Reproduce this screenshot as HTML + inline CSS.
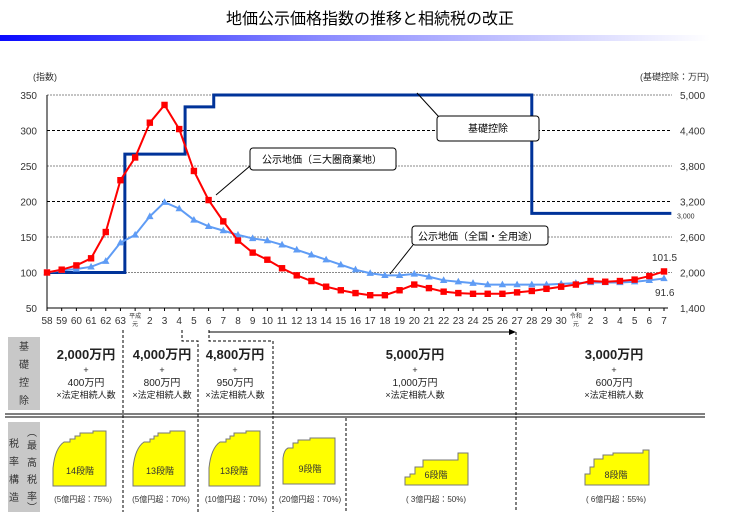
<!DOCTYPE html>
<html><head><meta charset="utf-8">
<style>
body{margin:0;background:#fff;width:740px;height:512px;overflow:hidden;font-family:"Liberation Sans","Noto Sans CJK JP",sans-serif;}
svg{display:block}
text{font-family:"Liberation Sans","Noto Sans CJK JP",sans-serif;}
</style></head>
<body>
<svg id="c" width="740" height="512" xmlns="http://www.w3.org/2000/svg">
<defs>
<linearGradient id="g" x1="0" x2="1" y1="0" y2="0">
<stop offset="0" stop-color="#0a0aff"/><stop offset="0.45" stop-color="#8a8aff"/><stop offset="1" stop-color="#ffffff"/>
</linearGradient>
</defs>
<text x="370" y="24" text-anchor="middle" font-size="16" fill="#000">地価公示価格指数の推移と相続税の改正</text>
<rect x="0" y="35" width="710" height="6" fill="url(#g)"/>
<text x="33" y="80" font-size="9" fill="#333">(指数)</text>
<text x="640" y="80" font-size="9" fill="#333">(基礎控除：万円)</text>
<g id="grid"></g>
<g id="axes"></g>
<g id="series"></g>
<g id="callouts">
<line x1="417" y1="93" x2="439" y2="117" stroke="#000"/>
<rect x="437" y="116" width="102" height="25" rx="3" fill="#fff" stroke="#000"/>
<text x="488" y="132" text-anchor="middle" font-size="10">基礎控除</text>
<line x1="250" y1="166" x2="216" y2="195" stroke="#000"/>
<rect x="250" y="148" width="146" height="22" rx="3" fill="#fff" stroke="#000"/>
<text x="262" y="163" font-size="10">公示地価（三大圏商業地）</text>
<line x1="413" y1="245" x2="390" y2="274" stroke="#000"/>
<rect x="412" y="226" width="136" height="19" rx="3" fill="#fff" stroke="#000"/>
<text x="418" y="240" font-size="10">公示地価（全国・全用途）</text>
<text x="652" y="261" font-size="10" fill="#333">101.5</text>
<text x="655" y="296" font-size="10" fill="#333">91.6</text>
</g>
<!-- table -->
<g id="table">
<rect x="8" y="337" width="32" height="73" fill="#c8c8c8"/>
<text font-size="10" fill="#333" text-anchor="middle"><tspan x="24" y="350">基</tspan><tspan x="24" y="368">礎</tspan><tspan x="24" y="386">控</tspan><tspan x="24" y="404">除</tspan></text>
<line x1="5" y1="414" x2="705" y2="414" stroke="#555" stroke-width="1.5"/>
<line x1="5" y1="417" x2="705" y2="417" stroke="#555" stroke-width="1.5"/>
<rect x="8" y="422" width="32" height="90" fill="#c8c8c8"/>
<text font-size="10" fill="#333" text-anchor="middle"><tspan x="14" y="447">税</tspan><tspan x="14" y="465">率</tspan><tspan x="14" y="483">構</tspan><tspan x="14" y="501">造</tspan></text>
<text font-size="10" fill="#333" text-anchor="middle"><tspan x="32" y="436">︵</tspan><tspan x="32" y="449">最</tspan><tspan x="32" y="466">高</tspan><tspan x="32" y="483">税</tspan><tspan x="32" y="500">率</tspan><tspan x="32" y="511">︶</tspan></text>
<g stroke="#000" stroke-dasharray="3,2" fill="none">
<line x1="123" y1="330" x2="123" y2="512"/>
<path d="M182 330 V341 H198 V512"/>
<path d="M209 330 V341 H273 V512"/>
<line x1="346" y1="418" x2="346" y2="512"/>
<line x1="516" y1="332" x2="516" y2="512"/>
</g>
<line x1="209" y1="332" x2="510" y2="332" stroke="#000"/>
<polygon points="516,332 509,329 509,335" fill="#000"/>
<g text-anchor="middle" fill="#222">
<g><text x="86" y="359" font-size="13" font-weight="bold">2,000万円</text><text x="86" y="373" font-size="9">+</text><text x="86" y="386" font-size="10">400万円</text><text x="86" y="398" font-size="9">×法定相続人数</text></g>
<g><text x="162" y="359" font-size="13" font-weight="bold">4,000万円</text><text x="162" y="373" font-size="9">+</text><text x="162" y="386" font-size="10">800万円</text><text x="162" y="398" font-size="9">×法定相続人数</text></g>
<g><text x="235" y="359" font-size="13" font-weight="bold">4,800万円</text><text x="235" y="373" font-size="9">+</text><text x="235" y="386" font-size="10">950万円</text><text x="235" y="398" font-size="9">×法定相続人数</text></g>
<g><text x="415" y="359" font-size="13" font-weight="bold">5,000万円</text><text x="415" y="373" font-size="9">+</text><text x="415" y="386" font-size="10">1,000万円</text><text x="415" y="398" font-size="9">×法定相続人数</text></g>
<g><text x="614" y="359" font-size="13" font-weight="bold">3,000万円</text><text x="614" y="373" font-size="9">+</text><text x="614" y="386" font-size="10">600万円</text><text x="614" y="398" font-size="9">×法定相続人数</text></g>
</g>
<g fill="#ffff00" stroke="#777" stroke-width="1">
<path d="M53 486 V468 Q55 448 64 442 H70 V439 H75 V436 H80 V433 H93 V431 H106 V438 V486 Z"/>
<path d="M133 486 V468 Q135 448 144 442 H150 V439 H154 V436 H158 V433 H170 V431 H185 V438 V486 Z"/>
<path d="M209 486 V468 Q211 448 220 442 H226 V439 H230 V436 H234 V433 H246 V431 H260 V438 V486 Z"/>
<path d="M283 484 V458 Q284 450 288 448 H293 V443 H298 V440 H310 V438 H335 V484 Z"/>
<path d="M405 485 V477 H410 V474 H415 V467 H423 V460 H458 V453 H468 V485 Z"/>
<path d="M585 485 V474 H590 V467 H594 V459 H603 V455 H613 V453 H643 V450 H649 V485 Z"/>
</g>
<g font-size="9" fill="#333" text-anchor="middle">
<text x="80" y="474">14段階</text><text x="160" y="474">13段階</text><text x="234" y="474">13段階</text><text x="310" y="472">9段階</text><text x="436" y="478">6段階</text><text x="616" y="478">8段階</text>
<text x="83" y="502" font-size="8">(5億円超：75%)</text><text x="161" y="502" font-size="8">(5億円超：70%)</text><text x="236" y="502" font-size="8">(10億円超：70%)</text><text x="310" y="502" font-size="8">(20億円超：70%)</text><text x="436" y="502" font-size="8">( 3億円超：50%)</text><text x="616" y="502" font-size="8">( 6億円超：55%)</text>
</g>
</g>
</svg>
<script>
const categories=["58","59","60","61","62","63","平成元","2","3","4","5","6","7","8","9","10","11","12","13","14","15","16","17","18","19","20","21","22","23","24","25","26","27","28","29","30","令和元","2","3","4","5","6","7"];
const commercialValues=[100,104,110,120,157,230,262,311,336,302,243,202,172,145,128,118,106,96,88,80,75,71,68,68,75,83,78,73,71,70,70,70,72,74,77,80,83,88,87,88,90,95,101.5];
const nationalValues=[100,103,105,108,116,142,153,179,199,190,174,165,159,153,148,145,139,132,125,118,111,104,99,96,96,98,94,89,87,85,83,83,83,83,83,84,85,86,86,86,87,89,91.6];
const leftTicks=[50,100,150,200,250,300,350];
const rightTicks=["1,400","2,000","2,600","3,200","3,800","4,400","5,000"];
const kisoBreaks=[0,5.3,9.4,11.35,33,42.5];
const kisoValues=[2000,4000,4800,5000,3000];
const X0=47,X1=664,Y0=308,Y1=95;
const xs=i=>X0+i*(X1-X0)/(categories.length-1);
const yl=v=>Y0-(v-50)/300*(Y0-Y1);
const yr=v=>Y0-(v-1400)/3600*(Y0-Y1);
const NS="http://www.w3.org/2000/svg";
function mk(tag,attrs,parent){const e=document.createElementNS(NS,tag);for(const k in attrs)e.setAttribute(k,attrs[k]);document.getElementById(parent).appendChild(e);return e;}
leftTicks.forEach((t,i)=>{
  if(t>50){const g=mk('line',{x1:X0,x2:672,y1:yl(t),y2:yl(t),stroke:(t==200||t==300)?'#000':'#888','stroke-dasharray':(t==200||t==300)?'3,2':'2,1','stroke-width':1},'grid');
  
  }
  const l=mk('text',{x:37,y:yl(t)+4,'text-anchor':'end','font-size':10,fill:'#333'},'axes');l.textContent=t;
  
  
  const r=mk('text',{x:680,y:yl(t)+4,'font-size':10,fill:'#333'},'axes');r.textContent=rightTicks[i];
  
  
});
const r3=mk('text',{x:677,y:yr(3000)+5,'font-size':7,fill:'#333'},'axes');r3.textContent="3,000";


mk('line',{x1:X0,x2:X0,y1:Y1,y2:Y0,stroke:'#000'},'axes');
mk('line',{x1:X0,x2:668,y1:Y0,y2:Y0,stroke:'#000'},'axes');
categories.forEach((c,i)=>{
  mk('line',{x1:xs(i),x2:xs(i),y1:Y0,y2:Y0+3,stroke:'#000'},'axes');
  if(c.length>2){const a=mk('text',{x:xs(i),y:Y0+10,'text-anchor':'middle','font-size':6,fill:'#333'},'axes');a.textContent=c.slice(0,2);
    const b=mk('text',{x:xs(i),y:Y0+18,'text-anchor':'middle','font-size':6,fill:'#333'},'axes');b.textContent=c.slice(2);
    
    
  } else {const t=mk('text',{x:xs(i),y:Y0+16,'text-anchor':'middle','font-size':10,fill:'#333'},'axes');t.textContent=c;
    
    }
});
// step line
let d='';
kisoValues.forEach((v,i)=>{const xa=X0+kisoBreaks[i]*(X1-X0)/(categories.length-1),xb=X0+kisoBreaks[i+1]*(X1-X0)/(categories.length-1);d+=(i?'L':'M')+xa+' '+yr(v)+' L'+xb+' '+yr(v)+' ';});
const st=mk('path',{d:d,fill:'none',stroke:'#003399','stroke-width':3},'series');


function series(vals,color,marker,name){
  const p=mk('polyline',{points:vals.map((v,i)=>xs(i)+','+yl(v)).join(' '),fill:'none',stroke:color,'stroke-width':2},'series');
  
  
  vals.forEach((v,i)=>{const x=xs(i),y=yl(v);let m;
    if(marker=='sq')m=mk('rect',{x:x-3.2,y:y-3.2,width:6.4,height:6.4,fill:color},'series');
    else m=mk('polygon',{points:`${x},${y-4} ${x-3.7},${y+2.7} ${x+3.7},${y+2.7}`,fill:color},'series');
    
    });
}
series(nationalValues,'#5f9cf5','tri','national');
series(commercialValues,'#ff0000','sq','commercial');
</script>
</body></html>
